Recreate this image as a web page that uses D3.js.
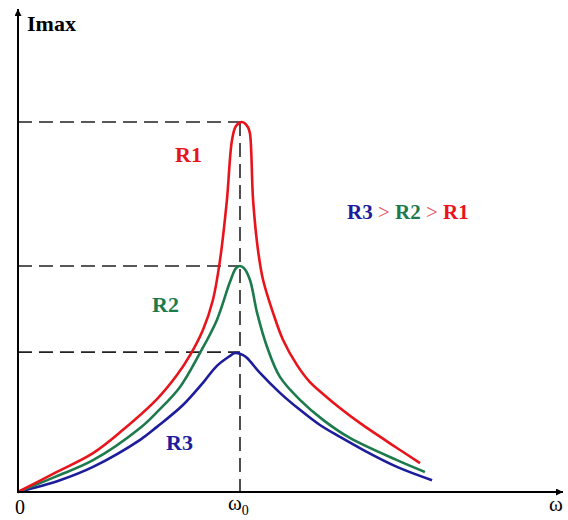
<!DOCTYPE html>
<html>
<head>
<meta charset="utf-8">
<script src="https://cdn.jsdelivr.net/npm/d3@7"></script>
<style>
  body { margin: 0; background: #fff; }
</style>
</head>
<body>
<script>
// Data: omega / omega0 and Imax relative to the R1 peak
const omegaR1 = [0, 0.158, 0.338, 0.473, 0.626, 0.716, 0.775, 0.833, 0.878, 0.910, 0.941, 0.964, 0.982, 1.009, 1.036, 1.045, 1.059, 1.081, 1.104, 1.149, 1.194, 1.257, 1.315, 1.374, 1.450, 1.541, 1.707, 1.811];
const imaxR1  = [0, 0.049, 0.105, 0.168, 0.251, 0.316, 0.370, 0.438, 0.519, 0.627, 0.789, 0.951, 0.989, 1.000, 0.986, 0.968, 0.789, 0.654, 0.573, 0.484, 0.411, 0.343, 0.297, 0.265, 0.227, 0.186, 0.119, 0.078];

const omegaR2 = [0, 0.167, 0.338, 0.550, 0.626, 0.730, 0.820, 0.896, 0.955, 0.982, 1.000, 1.018, 1.045, 1.077, 1.122, 1.180, 1.270, 1.374, 1.495, 1.707, 1.833];
const imaxR2  = [0, 0.041, 0.086, 0.173, 0.216, 0.284, 0.376, 0.465, 0.568, 0.605, 0.611, 0.605, 0.573, 0.484, 0.392, 0.311, 0.249, 0.195, 0.146, 0.086, 0.054];

const omegaR3 = [0, 0.189, 0.338, 0.550, 0.626, 0.743, 0.833, 0.896, 0.955, 0.977, 1.014, 1.032, 1.090, 1.180, 1.270, 1.360, 1.450, 1.554, 1.707, 1.865];
const imaxR3  = [0, 0.032, 0.068, 0.141, 0.176, 0.235, 0.295, 0.341, 0.368, 0.376, 0.370, 0.362, 0.322, 0.268, 0.222, 0.181, 0.149, 0.114, 0.068, 0.032];

const peaks = [1.0, 0.611, 0.378];

// Layout
const width = 568;
const height = 520;
const x0 = 18;   // y axis position
const y0 = 492;  // x axis position
const serif = "Liberation Serif";

const colors = { R1: "#e8141c", R2: "#1d7a4c", R3: "#1c1c9c" };

const x = d3.scaleLinear().domain([0, 1]).range([x0, 240]);
const y = d3.scaleLinear().domain([0, 1]).range([y0, 122]);

const svg = d3.select("body").append("svg")
  .attr("width", width)
  .attr("height", height);

// Dashed guides at each peak
const dash = svg.append("g")
  .attr("stroke", "#222")
  .attr("stroke-width", 1.6)
  .attr("stroke-dasharray", "14,7")
  .attr("fill", "none");
peaks.forEach(p => {
  dash.append("line")
    .attr("x1", x(0)).attr("x2", x(1))
    .attr("y1", y(p)).attr("y2", y(p));
});
dash.append("line")
  .attr("x1", x(1)).attr("x2", x(1))
  .attr("y1", y(peaks[0])).attr("y2", y0);

// Curves
const line = d3.line()
  .x(d => x(d[0]))
  .y(d => y(d[1]))
  .curve(d3.curveCatmullRom.alpha(0.5));

const series = [
  { name: "R3", pts: d3.zip(omegaR3, imaxR3) },
  { name: "R2", pts: d3.zip(omegaR2, imaxR2) },
  { name: "R1", pts: d3.zip(omegaR1, imaxR1) }
];

svg.append("g")
  .selectAll("path")
  .data(series)
  .join("path")
  .attr("d", s => line(s.pts))
  .attr("fill", "none")
  .attr("stroke", s => colors[s.name])
  .attr("stroke-width", 2.6)
  .attr("stroke-linejoin", "round");

// Axes with arrows
svg.append("defs").append("marker")
  .attr("id", "arrow")
  .attr("viewBox", "0 0 10 10")
  .attr("refX", 10).attr("refY", 5)
  .attr("markerWidth", 9).attr("markerHeight", 7)
  .attr("markerUnits", "userSpaceOnUse")
  .attr("orient", "auto")
  .append("path")
  .attr("d", "M0,0 L10,5 L0,10 Z")
  .attr("fill", "#000");

svg.append("line")
  .attr("x1", x0).attr("y1", y0)
  .attr("x2", 563).attr("y2", y0)
  .attr("stroke", "#000").attr("stroke-width", 2)
  .attr("marker-end", "url(#arrow)");

svg.append("line")
  .attr("x1", x0).attr("y1", y0 + 1)
  .attr("x2", x0).attr("y2", 9)
  .attr("stroke", "#000").attr("stroke-width", 2)
  .attr("marker-end", "url(#arrow)");

// Axis labels
svg.append("text")
  .attr("x", 27).attr("y", 31)
  .attr("font-family", serif)
  .attr("font-size", 22).attr("font-weight", "bold")
  .text("Imax");

svg.append("text")
  .attr("x", 20).attr("y", 514)
  .attr("font-family", serif)
  .attr("font-size", 20).attr("text-anchor", "middle")
  .text("0");

const w0 = svg.append("text")
  .attr("x", x(1) - 12).attr("y", 510)
  .attr("font-family", serif)
  .attr("font-size", 21);
w0.append("tspan").text("ω");
w0.append("tspan").attr("font-size", 14).attr("dy", 5).text("0");

svg.append("text")
  .attr("x", 556).attr("y", 511)
  .attr("font-family", serif)
  .attr("font-size", 21).attr("text-anchor", "middle")
  .text("ω");

// Series labels
const labels = [
  { name: "R1", lx: 175, ly: 162 },
  { name: "R2", lx: 152, ly: 312 },
  { name: "R3", lx: 166, ly: 450 }
];
svg.append("g")
  .selectAll("text")
  .data(labels)
  .join("text")
  .attr("x", d => d.lx)
  .attr("y", d => d.ly)
  .attr("font-family", serif)
  .attr("font-size", 22)
  .attr("font-weight", "bold")
  .attr("fill", d => colors[d.name])
  .text(d => d.name);

// Order relation
const rel = svg.append("text")
  .attr("x", 347).attr("y", 219)
  .attr("font-family", serif)
  .attr("font-size", 21)
  .attr("font-weight", "bold");
rel.append("tspan").attr("fill", colors.R3).text("R3");
rel.append("tspan").attr("fill", "#e05060").attr("font-weight", "normal").text(" > ");
rel.append("tspan").attr("fill", colors.R2).text("R2");
rel.append("tspan").attr("fill", "#e05060").attr("font-weight", "normal").text(" > ");
rel.append("tspan").attr("fill", colors.R1).text("R1");
</script>
</body>
</html>
